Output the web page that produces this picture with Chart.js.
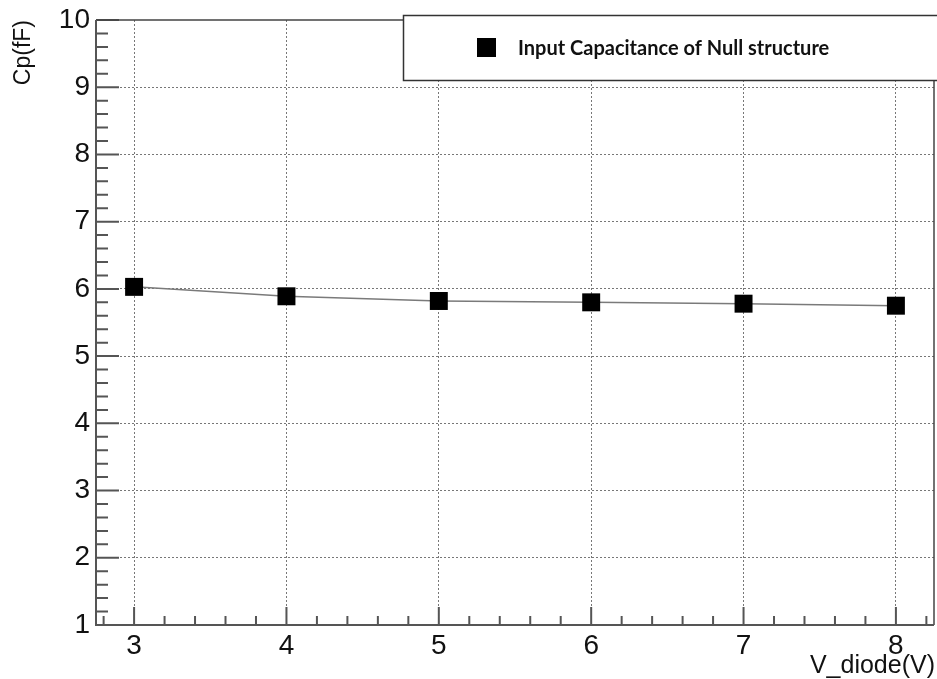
<!DOCTYPE html>
<html>
<head>
<meta charset="utf-8">
<script src="https://cdn.jsdelivr.net/npm/chart.js@4.4.0/dist/chart.umd.min.js"></script>
<style>
  body { margin: 0; background: #fff; }
  canvas { display: block; }
</style>
</head>
<body>
<canvas id="cpChart" width="937" height="679"></canvas>
<script>
const voltages = [3, 4, 5, 6, 7, 8];
const capacitance = [6.03, 5.89, 5.82, 5.80, 5.78, 5.75];
const xTickValues = [3, 4, 5, 6, 7, 8];
const yTickValues = [1, 2, 3, 4, 5, 6, 7, 8, 9, 10];
const seriesLabel = 'Input Capacitance of Null structure';
const xTitle = 'V_diode(V)';
const yTitle = 'Cp(fF)';

const axisFont = 'Liberation Sans, Arial, sans-serif';

// frame, inward major/minor ticks, axis titles and the legend box
const rootStyle = {
  id: 'rootStyle',
  beforeDatasetsDraw(chart) {
    const { ctx, chartArea: a, scales: { x, y } } = chart;
    ctx.save();
    ctx.strokeStyle = '#555';
    ctx.lineWidth = 2;
    ctx.beginPath();
    for (let i = 5; i <= 50; i++) {
      const py = y.getPixelForValue(i / 5);
      const len = i % 5 === 0 ? 23 : 12;
      ctx.moveTo(a.left, py);
      ctx.lineTo(a.left + len, py);
    }
    for (let i = 14; i <= 41; i++) {
      const px = x.getPixelForValue(i / 5);
      const len = i % 5 === 0 ? 18 : 9;
      ctx.moveTo(px, a.bottom);
      ctx.lineTo(px, a.bottom - len);
    }
    ctx.stroke();

    // frame
    ctx.lineWidth = 1.5;
    ctx.strokeStyle = '#444';
    ctx.beginPath();
    ctx.moveTo(a.left, a.top);
    ctx.lineTo(a.right, a.top);
    ctx.lineTo(a.right, a.bottom);
    ctx.stroke();
    ctx.lineWidth = 2;
    ctx.strokeStyle = '#555';
    ctx.beginPath();
    ctx.moveTo(a.left, a.top);
    ctx.lineTo(a.left, a.bottom);
    ctx.lineTo(a.right, a.bottom);
    ctx.stroke();
    ctx.restore();
  },
  afterDraw(chart) {
    const { ctx, chartArea: a } = chart;
    ctx.save();
    ctx.fillStyle = '#111';

    // axis titles
    ctx.font = '23px ' + axisFont;
    ctx.textBaseline = 'middle';
    ctx.textAlign = 'right';
    ctx.translate(24, a.top);
    ctx.rotate(-Math.PI / 2);
    ctx.fillText(yTitle, 0, 0);
    ctx.setTransform(1, 0, 0, 1, 0, 0);

    ctx.font = '25px ' + axisFont;
    ctx.textBaseline = 'alphabetic';
    ctx.textAlign = 'right';
    ctx.fillText(xTitle, 935, 673);

    // legend box
    ctx.fillStyle = '#fff';
    ctx.fillRect(403, 15, 540, 66);
    ctx.strokeStyle = '#333';
    ctx.lineWidth = 1.5;
    ctx.strokeRect(403.5, 15.5, 540, 65);
    ctx.fillStyle = '#000';
    ctx.fillRect(477, 38, 19, 19);
    ctx.fillStyle = '#111';
    ctx.font = 'bold 20px Lato, sans-serif';
    ctx.textAlign = 'left';
    ctx.textBaseline = 'middle';
    ctx.fillText(seriesLabel, 518, 49);
    ctx.restore();
  }
};

const gridColor = (ctx) => {
  const v = ctx.tick ? ctx.tick.value : null;
  return (v === 1 || v === 10) ? 'rgba(0,0,0,0)' : '#777';
};

new Chart(document.getElementById('cpChart'), {
  type: 'scatter',
  data: {
    datasets: [{
      label: seriesLabel,
      data: voltages.map((v, i) => ({ x: v, y: capacitance[i] })),
      showLine: true,
      borderColor: '#7a7a7a',
      borderWidth: 1.5,
      pointStyle: 'rect',
      pointRadius: 12.7,
      pointBorderWidth: 0,
      pointBackgroundColor: '#000',
      pointBorderColor: '#000'
    }]
  },
  options: {
    responsive: false,
    animation: false,
    layout: { autoPadding: false, padding: { top: 20, right: 3, left: 0, bottom: 0 } },
    plugins: { legend: { display: false }, tooltip: { enabled: false } },
    scales: {
      x: {
        type: 'linear',
        min: 2.75,
        max: 8.25,
        afterBuildTicks: (s) => { s.ticks = xTickValues.map(v => ({ value: v })); },
        afterFit: (s) => { s.height = 54; s.paddingLeft = 0; s.paddingRight = 0; },
        grid: { color: gridColor, lineWidth: 1, drawTicks: false },
        border: { display: false, dash: [2, 2] },
        ticks: { padding: 4, color: '#111', font: { family: axisFont, size: 28 } }
      },
      y: {
        type: 'linear',
        min: 1,
        max: 10,
        afterBuildTicks: (s) => { s.ticks = yTickValues.map(v => ({ value: v })); },
        afterFit: (s) => { s.width = 96; s.paddingTop = 0; s.paddingBottom = 0; },
        grid: { color: gridColor, lineWidth: 1, drawTicks: false },
        border: { display: false, dash: [2, 2] },
        ticks: { padding: 6, color: '#111', font: { family: axisFont, size: 28 } }
      }
    }
  },
  plugins: [rootStyle]
});
</script>
</body>
</html>
